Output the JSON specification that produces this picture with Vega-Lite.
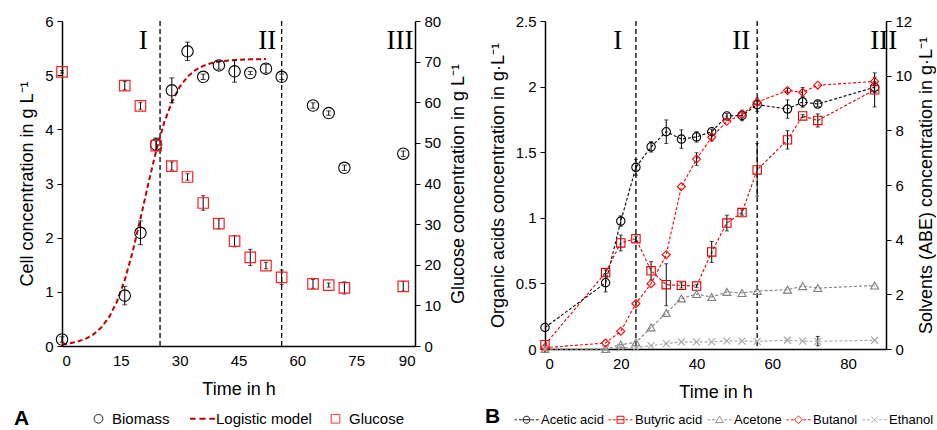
{
  "$schema": "https://vega.github.io/schema/vega-lite/v6.json",
  "padding": {"left": 14, "top": 14, "right": 0, "bottom": 0},
  "spacing": 17,
  "config": {
    "font": "Liberation Sans",
    "view": {"stroke": null},
    "axis": {"labelFont": "Liberation Sans", "labelFontSize": 15, "labelColor": "#000", "titleFont": "Liberation Sans", "titleFontSize": 18, "titleFontWeight": "normal", "titleColor": "#000", "domainColor": "#000", "domainWidth": 1.5, "tickColor": "#000", "tickSize": 5, "grid": false, "labelPadding": 4, "titlePadding": 8, "labelOverlap": false},
    "axisX": {"ticks": false, "labelPadding": 7, "titlePadding": 12, "labelOverlap": false}
  },
  "datasets": {
    "bio": [
      {"t": 0, "s": "Biomass", "v": 0.12, "lo": 0.07, "hi": 0.17},
      {"t": 16, "s": "Biomass", "v": 0.93, "lo": 0.76, "hi": 1.10},
      {"t": 20, "s": "Biomass", "v": 2.09, "lo": 1.87, "hi": 2.31},
      {"t": 24, "s": "Biomass", "v": 3.72, "lo": 3.60, "hi": 3.84},
      {"t": 28, "s": "Biomass", "v": 4.72, "lo": 4.49, "hi": 4.95},
      {"t": 32, "s": "Biomass", "v": 5.44, "lo": 5.27, "hi": 5.61},
      {"t": 36, "s": "Biomass", "v": 4.97, "lo": 4.92, "hi": 5.02},
      {"t": 40, "s": "Biomass", "v": 5.18, "lo": 5.11, "hi": 5.25},
      {"t": 44, "s": "Biomass", "v": 5.07, "lo": 4.87, "hi": 5.27},
      {"t": 48, "s": "Biomass", "v": 5.04, "lo": 5.01, "hi": 5.07},
      {"t": 52, "s": "Biomass", "v": 5.12, "lo": 5.04, "hi": 5.20},
      {"t": 56, "s": "Biomass", "v": 4.97, "lo": 4.92, "hi": 5.02},
      {"t": 64, "s": "Biomass", "v": 4.44, "lo": 4.39, "hi": 4.49},
      {"t": 68, "s": "Biomass", "v": 4.30, "lo": 4.26, "hi": 4.34},
      {"t": 72, "s": "Biomass", "v": 3.29, "lo": 3.24, "hi": 3.34},
      {"t": 87, "s": "Biomass", "v": 3.55, "lo": 3.50, "hi": 3.60}
    ],
    "glc": [
      {"t": 0, "s": "Glucose", "v": 67.5, "lo": 67.2, "hi": 67.8},
      {"t": 16, "s": "Glucose", "v": 64.1, "lo": 63.1, "hi": 65.1},
      {"t": 20, "s": "Glucose", "v": 59.1, "lo": 58.3, "hi": 59.9},
      {"t": 24, "s": "Glucose", "v": 49.3, "lo": 48.1, "hi": 50.5},
      {"t": 28, "s": "Glucose", "v": 44.3, "lo": 43.3, "hi": 45.3},
      {"t": 32, "s": "Glucose", "v": 41.6, "lo": 40.8, "hi": 42.4},
      {"t": 36, "s": "Glucose", "v": 35.2, "lo": 33.4, "hi": 37.0},
      {"t": 40, "s": "Glucose", "v": 30.1, "lo": 28.9, "hi": 31.3},
      {"t": 44, "s": "Glucose", "v": 25.8, "lo": 24.4, "hi": 27.2},
      {"t": 48, "s": "Glucose", "v": 21.8, "lo": 19.8, "hi": 23.8},
      {"t": 52, "s": "Glucose", "v": 19.8, "lo": 19.0, "hi": 20.6},
      {"t": 56, "s": "Glucose", "v": 16.9, "lo": 15.1, "hi": 18.7},
      {"t": 64, "s": "Glucose", "v": 15.3, "lo": 14.2, "hi": 16.4},
      {"t": 68, "s": "Glucose", "v": 15.0, "lo": 14.5, "hi": 15.5},
      {"t": 72, "s": "Glucose", "v": 14.3, "lo": 12.8, "hi": 15.8},
      {"t": 87, "s": "Glucose", "v": 14.7, "lo": 13.5, "hi": 15.9}
    ],
    "logit": [
      {"t": 0, "s": "Logistic model", "v": 0.031},
      {"t": 2, "s": "Logistic model", "v": 0.050},
      {"t": 4, "s": "Logistic model", "v": 0.082},
      {"t": 6, "s": "Logistic model", "v": 0.132},
      {"t": 8, "s": "Logistic model", "v": 0.213},
      {"t": 10, "s": "Logistic model", "v": 0.34},
      {"t": 12, "s": "Logistic model", "v": 0.532},
      {"t": 14, "s": "Logistic model", "v": 0.817},
      {"t": 16, "s": "Logistic model", "v": 1.216},
      {"t": 18, "s": "Logistic model", "v": 1.735},
      {"t": 20, "s": "Logistic model", "v": 2.35},
      {"t": 22, "s": "Logistic model", "v": 2.996},
      {"t": 24, "s": "Logistic model", "v": 3.60},
      {"t": 26, "s": "Logistic model", "v": 4.114},
      {"t": 28, "s": "Logistic model", "v": 4.50},
      {"t": 30, "s": "Logistic model", "v": 4.784},
      {"t": 32, "s": "Logistic model", "v": 4.97},
      {"t": 34, "s": "Logistic model", "v": 5.094},
      {"t": 36, "s": "Logistic model", "v": 5.172},
      {"t": 38, "s": "Logistic model", "v": 5.221},
      {"t": 40, "s": "Logistic model", "v": 5.251},
      {"t": 44, "s": "Logistic model", "v": 5.282},
      {"t": 48, "s": "Logistic model", "v": 5.293},
      {"t": 52, "s": "Logistic model", "v": 5.297}
    ],
    "phaseA": [{"t": 25}, {"t": 56}],
    "romA": [
      {"t": 20.7, "y": 5.63, "label": "I"},
      {"t": 52.3, "y": 5.63, "label": "II"},
      {"t": 86.2, "y": 5.63, "label": "III"}
    ],
    "phaseB": [{"t": 24}, {"t": 56}],
    "romB": [
      {"t": 19.2, "y": 2.35, "label": "I"},
      {"t": 51.8, "y": 2.35, "label": "II"},
      {"t": 89.4, "y": 2.35, "label": "III"}
    ],
    "acids": [
      {"t": 0, "s": "Acetic acid", "v": 0.164},
      {"t": 16, "s": "Acetic acid", "v": 0.505, "lo": 0.435, "hi": 0.575},
      {"t": 20, "s": "Acetic acid", "v": 0.975, "lo": 0.935, "hi": 1.015},
      {"t": 24, "s": "Acetic acid", "v": 1.385, "lo": 1.325, "hi": 1.445},
      {"t": 28, "s": "Acetic acid", "v": 1.541, "lo": 1.501, "hi": 1.581},
      {"t": 32, "s": "Acetic acid", "v": 1.656, "lo": 1.566, "hi": 1.746},
      {"t": 36, "s": "Acetic acid", "v": 1.600, "lo": 1.530, "hi": 1.670},
      {"t": 40, "s": "Acetic acid", "v": 1.617, "lo": 1.577, "hi": 1.657},
      {"t": 44, "s": "Acetic acid", "v": 1.656, "lo": 1.636, "hi": 1.676},
      {"t": 48, "s": "Acetic acid", "v": 1.776, "lo": 1.756, "hi": 1.796},
      {"t": 52, "s": "Acetic acid", "v": 1.780, "lo": 1.740, "hi": 1.820},
      {"t": 56, "s": "Acetic acid", "v": 1.862, "lo": 1.812, "hi": 1.912},
      {"t": 64, "s": "Acetic acid", "v": 1.829, "lo": 1.759, "hi": 1.899},
      {"t": 68, "s": "Acetic acid", "v": 1.883, "lo": 1.843, "hi": 1.923},
      {"t": 72, "s": "Acetic acid", "v": 1.867, "lo": 1.847, "hi": 1.887},
      {"t": 87, "s": "Acetic acid", "v": 1.995, "lo": 1.955, "hi": 2.035},
      {"t": 0, "s": "Butyric acid", "v": 0.033},
      {"t": 16, "s": "Butyric acid", "v": 0.583, "lo": 0.563, "hi": 0.603},
      {"t": 20, "s": "Butyric acid", "v": 0.808, "lo": 0.748, "hi": 0.868},
      {"t": 24, "s": "Butyric acid", "v": 0.841, "lo": 0.821, "hi": 0.861},
      {"t": 28, "s": "Butyric acid", "v": 0.596, "lo": 0.526, "hi": 0.666},
      {"t": 32, "s": "Butyric acid", "v": 0.490, "lo": 0.330, "hi": 0.650},
      {"t": 36, "s": "Butyric acid", "v": 0.485, "lo": 0.465, "hi": 0.505},
      {"t": 40, "s": "Butyric acid", "v": 0.480, "lo": 0.470, "hi": 0.490},
      {"t": 44, "s": "Butyric acid", "v": 0.740, "lo": 0.660, "hi": 0.820},
      {"t": 48, "s": "Butyric acid", "v": 0.960, "lo": 0.900, "hi": 1.020},
      {"t": 52, "s": "Butyric acid", "v": 1.040, "lo": 1.020, "hi": 1.060},
      {"t": 56, "s": "Butyric acid", "v": 1.365, "lo": 1.165, "hi": 1.565},
      {"t": 64, "s": "Butyric acid", "v": 1.594, "lo": 1.524, "hi": 1.664},
      {"t": 68, "s": "Butyric acid", "v": 1.776, "lo": 1.766, "hi": 1.786},
      {"t": 72, "s": "Butyric acid", "v": 1.742, "lo": 1.692, "hi": 1.792},
      {"t": 87, "s": "Butyric acid", "v": 1.975, "lo": 1.845, "hi": 2.105}
    ],
    "solv": [
      {"t": 0, "s": "Acetone", "v": 0.0},
      {"t": 16, "s": "Acetone", "v": 0.0},
      {"t": 20, "s": "Acetone", "v": 0.16},
      {"t": 24, "s": "Acetone", "v": 0.24},
      {"t": 28, "s": "Acetone", "v": 0.79},
      {"t": 32, "s": "Acetone", "v": 1.32},
      {"t": 36, "s": "Acetone", "v": 1.85},
      {"t": 40, "s": "Acetone", "v": 2.01},
      {"t": 44, "s": "Acetone", "v": 1.90},
      {"t": 48, "s": "Acetone", "v": 2.09},
      {"t": 52, "s": "Acetone", "v": 2.05},
      {"t": 56, "s": "Acetone", "v": 2.12},
      {"t": 64, "s": "Acetone", "v": 2.17},
      {"t": 68, "s": "Acetone", "v": 2.30},
      {"t": 72, "s": "Acetone", "v": 2.23},
      {"t": 87, "s": "Acetone", "v": 2.32},
      {"t": 0, "s": "Butanol", "v": 0.05},
      {"t": 16, "s": "Butanol", "v": 0.22},
      {"t": 20, "s": "Butanol", "v": 0.65},
      {"t": 24, "s": "Butanol", "v": 1.66},
      {"t": 28, "s": "Butanol", "v": 2.39},
      {"t": 32, "s": "Butanol", "v": 3.45},
      {"t": 36, "s": "Butanol", "v": 5.94},
      {"t": 40, "s": "Butanol", "v": 6.95, "lo": 6.72, "hi": 7.18},
      {"t": 44, "s": "Butanol", "v": 7.75, "lo": 7.61, "hi": 7.89},
      {"t": 48, "s": "Butanol", "v": 8.33},
      {"t": 52, "s": "Butanol", "v": 8.57},
      {"t": 56, "s": "Butanol", "v": 9.03},
      {"t": 64, "s": "Butanol", "v": 9.46, "lo": 9.38, "hi": 9.54},
      {"t": 68, "s": "Butanol", "v": 9.39, "lo": 9.21, "hi": 9.57},
      {"t": 72, "s": "Butanol", "v": 9.65},
      {"t": 87, "s": "Butanol", "v": 9.79, "lo": 9.64, "hi": 9.94},
      {"t": 0, "s": "Ethanol", "v": 0.0},
      {"t": 16, "s": "Ethanol", "v": 0.0},
      {"t": 20, "s": "Ethanol", "v": 0.06},
      {"t": 24, "s": "Ethanol", "v": 0.05},
      {"t": 28, "s": "Ethanol", "v": 0.12},
      {"t": 32, "s": "Ethanol", "v": 0.20},
      {"t": 36, "s": "Ethanol", "v": 0.26},
      {"t": 40, "s": "Ethanol", "v": 0.26},
      {"t": 44, "s": "Ethanol", "v": 0.26},
      {"t": 48, "s": "Ethanol", "v": 0.30},
      {"t": 52, "s": "Ethanol", "v": 0.29},
      {"t": 56, "s": "Ethanol", "v": 0.28},
      {"t": 64, "s": "Ethanol", "v": 0.32},
      {"t": 68, "s": "Ethanol", "v": 0.29},
      {"t": 72, "s": "Ethanol", "v": 0.28, "lo": 0.12, "hi": 0.46},
      {"t": 87, "s": "Ethanol", "v": 0.32}
    ]
  },
  "hconcat": [
    {
      "width": 353,
      "height": 325,
      "layer": [
        {
          "layer": [
            {
              "data": {"name": "phaseA"},
              "mark": {"type": "rule", "color": "#000", "strokeWidth": 1.3, "strokeDash": [5, 3]},
              "encoding": {
                "x": {"field": "t", "type": "quantitative", "scale": {"domain": [0, 90], "nice": false}, "axis": {"values": [0, 15, 30, 45, 60, 75, 90], "title": "Time in h", "labelOverlap": false}}
              }
            },
            {
              "data": {"name": "logit"},
              "mark": {"type": "line", "strokeWidth": 2, "strokeDash": [5, 3]},
              "encoding": {
                "x": {"field": "t", "type": "quantitative"},
                "y": {"field": "v", "type": "quantitative", "scale": {"domain": [0, 6], "nice": false}, "axis": {"orient": "left", "values": [0, 1, 2, 3, 4, 5, 6], "format": "d", "title": "Cell concentration in g L⁻¹"}},
                "color": {"field": "s", "type": "nominal", "scale": {"domain": ["Biomass", "Logistic model", "Glucose"], "range": ["#000000", "#c00000", "#ff2020"]},
                  "legend": {"title": "A", "titleOrient": "left", "titleAnchor": "middle", "titleBaseline": "middle", "titleFont": "Liberation Sans", "titleFontSize": 21, "titleFontWeight": "bold", "titleColor": "#000", "titlePadding": 61,
                    "orient": "none", "legendX": -48, "legendY": 390, "direction": "horizontal", "gridAlign": "each", "labelFontSize": 15, "labelFont": "Liberation Sans", "labelColor": "#000", "columnPadding": 16, "labelOffset": 6, "symbolSize": 625, "symbolStrokeWidth": 1,
                    "encode": {"symbols": {"update": {
                      "shape": {"signal": "datum.value === 'Logistic model' ? 'M-1,0H-0.55M-0.25,0H0.25M0.55,0H1' : (datum.value === 'Glucose' ? 'square' : 'circle')"},
                      "size": {"signal": "datum.value === 'Logistic model' ? 625 : 75"},
                      "stroke": {"signal": "datum.value === 'Logistic model' ? '#c00000' : (datum.value === 'Glucose' ? '#ff2020' : '#000000')"},
                      "strokeWidth": {"signal": "datum.value === 'Logistic model' ? 2 : 1"},
                      "strokeDash": {"value": [1, 0]},
                      "fill": {"value": "transparent"},
                      "opacity": {"value": 1}
                    }}}
                  }
                }
              }
            },
            {
              "data": {"name": "bio"},
              "mark": {"type": "rule", "color": "#000", "strokeWidth": 1},
              "encoding": {
                "x": {"field": "t", "type": "quantitative"},
                "y": {"field": "lo", "type": "quantitative"},
                "y2": {"field": "hi"}
              }
            },
            {
              "data": {"name": "bio"},
              "mark": {"type": "tick", "orient": "horizontal", "size": 5, "thickness": 1, "color": "#000"},
              "encoding": {
                "x": {"field": "t", "type": "quantitative"},
                "y": {"field": "lo", "type": "quantitative"}
              }
            },
            {
              "data": {"name": "bio"},
              "mark": {"type": "tick", "orient": "horizontal", "size": 5, "thickness": 1, "color": "#000"},
              "encoding": {
                "x": {"field": "t", "type": "quantitative"},
                "y": {"field": "hi", "type": "quantitative"}
              }
            },
            {
              "data": {"name": "bio"},
              "mark": {"type": "point", "shape": "circle", "filled": false, "size": 130, "strokeWidth": 1.1, "opacity": 1},
              "encoding": {
                "x": {"field": "t", "type": "quantitative"},
                "y": {"field": "v", "type": "quantitative"},
                "color": {"field": "s", "type": "nominal"}
              }
            },
            {
              "data": {"name": "romA"},
              "mark": {"type": "text", "font": "Liberation Serif", "fontSize": 27, "color": "#000", "baseline": "middle", "align": "center"},
              "encoding": {
                "x": {"field": "t", "type": "quantitative"},
                "y": {"field": "y", "type": "quantitative"},
                "text": {"field": "label"}
              }
            }
          ]
        },
        {
          "layer": [
            {
              "data": {"name": "glc"},
              "mark": {"type": "rule", "color": "#000", "strokeWidth": 1},
              "encoding": {
                "x": {"field": "t", "type": "quantitative"},
                "y": {"field": "lo", "type": "quantitative", "scale": {"domain": [0, 80], "nice": false}, "axis": {"orient": "right", "values": [0, 10, 20, 30, 40, 50, 60, 70, 80], "title": "Glucose concentration in g L⁻¹", "titlePadding": 9, "titleAngle": -90, "titleBaseline": "top"}},
                "y2": {"field": "hi"}
              }
            },
            {
              "data": {"name": "glc"},
              "mark": {"type": "tick", "orient": "horizontal", "size": 4, "thickness": 1, "color": "#000"},
              "encoding": {
                "x": {"field": "t", "type": "quantitative"},
                "y": {"field": "lo", "type": "quantitative"}
              }
            },
            {
              "data": {"name": "glc"},
              "mark": {"type": "tick", "orient": "horizontal", "size": 4, "thickness": 1, "color": "#000"},
              "encoding": {
                "x": {"field": "t", "type": "quantitative"},
                "y": {"field": "hi", "type": "quantitative"}
              }
            },
            {
              "data": {"name": "glc"},
              "mark": {"type": "point", "shape": "square", "filled": false, "size": 110, "strokeWidth": 1.2, "opacity": 1},
              "encoding": {
                "x": {"field": "t", "type": "quantitative"},
                "y": {"field": "v", "type": "quantitative"},
                "color": {"field": "s", "type": "nominal"}
              }
            }
          ]
        }
      ],
      "resolve": {"scale": {"y": "independent"}}
    },
    {
      "width": 341,
      "height": 328,
      "layer": [
        {
          "layer": [
            {
              "data": {"name": "phaseB"},
              "mark": {"type": "rule", "color": "#000", "strokeWidth": 1.3, "strokeDash": [5, 3]},
              "encoding": {
                "x": {"field": "t", "type": "quantitative", "scale": {"domain": [0, 90], "nice": false}, "axis": {"values": [0, 10, 20, 30, 40, 50, 60, 70, 80, 90], "title": "Time in h", "labelOverlap": false}}
              }
            },
            {
              "data": {"name": "acids"},
              "mark": {"type": "line", "strokeWidth": 1.1, "strokeDash": [3, 2]},
              "encoding": {
                "x": {"field": "t", "type": "quantitative"},
                "y": {"field": "v", "type": "quantitative", "scale": {"domain": [0, 2.5], "nice": false}, "axis": {"orient": "left", "values": [0, 0.5, 1, 1.5, 2, 2.5], "format": ".1~f", "title": "Organic acids concentration in g·L⁻¹"}},
                "color": {"field": "s", "type": "nominal", "scale": {"domain": ["Acetic acid", "Butyric acid", "Acetone", "Butanol", "Ethanol"], "range": ["#000000", "#e00000", "#808080", "#ff0000", "#a6a6a6"]},
                  "legend": {"title": "B", "titleOrient": "left", "titleAnchor": "middle", "titleBaseline": "middle", "titleFont": "Liberation Sans", "titleFontSize": 21, "titleFontWeight": "bold", "titleColor": "#000", "titlePadding": 13,
                    "orient": "none", "legendX": -60, "legendY": 386, "direction": "horizontal", "gridAlign": "each", "labelFontSize": 13, "labelFont": "Liberation Sans", "labelColor": "#000", "columnPadding": 2, "labelOffset": 2, "symbolSize": 576, "symbolStrokeWidth": 1,
                    "encode": {"symbols": {"update": {
                      "shape": {"signal": "'M-1,0H-0.78M-0.62,0H-0.4M0.4,0H0.62M0.78,0H1' + (datum.value === 'Acetic acid' ? 'M0.29,0A0.29,0.29 0 1,1 -0.29,0A0.29,0.29 0 1,1 0.29,0M-0.29,0H0.29' : datum.value === 'Butyric acid' ? 'M-0.29,-0.29H0.29V0.29H-0.29ZM-0.29,0H0.29' : datum.value === 'Acetone' ? 'M0,-0.3L0.32,0.24H-0.32Z' : datum.value === 'Butanol' ? 'M0,-0.33L0.33,0L0,0.33L-0.33,0Z' : 'M-0.27,-0.27L0.27,0.27M-0.27,0.27L0.27,-0.27')"},
                      "size": {"value": 576},
                      "stroke": {"signal": "datum.value === 'Acetic acid' ? '#000000' : datum.value === 'Butyric acid' ? '#e00000' : datum.value === 'Acetone' ? '#808080' : datum.value === 'Butanol' ? '#ff0000' : '#a6a6a6'"},
                      "strokeWidth": {"value": 1},
                      "strokeDash": {"value": [1, 0]},
                      "fill": {"value": "transparent"},
                      "opacity": {"value": 1}
                    }}}
                  }
                },
                "detail": {"field": "s"}
              }
            },
            {
              "data": {"name": "acids"},
              "mark": {"type": "rule", "color": "#000", "strokeWidth": 1},
              "encoding": {
                "x": {"field": "t", "type": "quantitative"},
                "y": {"field": "lo", "type": "quantitative"},
                "y2": {"field": "hi"}
              }
            },
            {
              "data": {"name": "acids"},
              "mark": {"type": "tick", "orient": "horizontal", "size": 4, "thickness": 1, "color": "#000"},
              "encoding": {
                "x": {"field": "t", "type": "quantitative"},
                "y": {"field": "lo", "type": "quantitative"}
              }
            },
            {
              "data": {"name": "acids"},
              "mark": {"type": "tick", "orient": "horizontal", "size": 4, "thickness": 1, "color": "#000"},
              "encoding": {
                "x": {"field": "t", "type": "quantitative"},
                "y": {"field": "hi", "type": "quantitative"}
              }
            },
            {
              "data": {"name": "acids"},
              "transform": [{"filter": {"field": "s", "equal": "Acetic acid"}}],
              "mark": {"type": "point", "shape": "circle", "filled": false, "size": 70, "strokeWidth": 1.1, "opacity": 1},
              "encoding": {
                "x": {"field": "t", "type": "quantitative"},
                "y": {"field": "v", "type": "quantitative"},
                "color": {"field": "s", "type": "nominal"}
              }
            },
            {
              "data": {"name": "acids"},
              "transform": [{"filter": {"field": "s", "equal": "Butyric acid"}}],
              "mark": {"type": "point", "shape": "square", "filled": false, "size": 70, "strokeWidth": 1.1, "opacity": 1},
              "encoding": {
                "x": {"field": "t", "type": "quantitative"},
                "y": {"field": "v", "type": "quantitative"},
                "color": {"field": "s", "type": "nominal"}
              }
            },
            {
              "data": {"name": "romB"},
              "mark": {"type": "text", "font": "Liberation Serif", "fontSize": 27, "color": "#000", "baseline": "middle", "align": "center"},
              "encoding": {
                "x": {"field": "t", "type": "quantitative"},
                "y": {"field": "y", "type": "quantitative"},
                "text": {"field": "label"}
              }
            }
          ]
        },
        {
          "layer": [
            {
              "data": {"name": "solv"},
              "mark": {"type": "line", "strokeWidth": 1.1, "strokeDash": [3, 2]},
              "encoding": {
                "x": {"field": "t", "type": "quantitative"},
                "y": {"field": "v", "type": "quantitative", "scale": {"domain": [0, 12], "nice": false}, "axis": {"orient": "right", "values": [0, 2, 4, 6, 8, 10, 12], "title": "Solvents (ABE) concentration in g·L⁻¹", "titlePadding": 6, "titleAngle": -90, "titleBaseline": "top"}},
                "color": {"field": "s", "type": "nominal"},
                "detail": {"field": "s"}
              }
            },
            {
              "data": {"name": "solv"},
              "mark": {"type": "rule", "color": "#000", "strokeWidth": 1},
              "encoding": {
                "x": {"field": "t", "type": "quantitative"},
                "y": {"field": "lo", "type": "quantitative"},
                "y2": {"field": "hi"}
              }
            },
            {
              "data": {"name": "solv"},
              "mark": {"type": "tick", "orient": "horizontal", "size": 4, "thickness": 1, "color": "#000"},
              "encoding": {
                "x": {"field": "t", "type": "quantitative"},
                "y": {"field": "lo", "type": "quantitative"}
              }
            },
            {
              "data": {"name": "solv"},
              "mark": {"type": "tick", "orient": "horizontal", "size": 4, "thickness": 1, "color": "#000"},
              "encoding": {
                "x": {"field": "t", "type": "quantitative"},
                "y": {"field": "hi", "type": "quantitative"}
              }
            },
            {
              "data": {"name": "solv"},
              "transform": [{"filter": {"field": "s", "equal": "Acetone"}}],
              "mark": {"type": "point", "shape": "triangle-up", "filled": false, "size": 64, "strokeWidth": 1.1, "opacity": 1},
              "encoding": {
                "x": {"field": "t", "type": "quantitative"},
                "y": {"field": "v", "type": "quantitative"},
                "color": {"field": "s", "type": "nominal"}
              }
            },
            {
              "data": {"name": "solv"},
              "transform": [{"filter": {"field": "s", "equal": "Butanol"}}],
              "mark": {"type": "point", "shape": "diamond", "filled": false, "size": 64, "strokeWidth": 1.1, "opacity": 1},
              "encoding": {
                "x": {"field": "t", "type": "quantitative"},
                "y": {"field": "v", "type": "quantitative"},
                "color": {"field": "s", "type": "nominal"}
              }
            },
            {
              "data": {"name": "solv"},
              "transform": [{"filter": {"field": "s", "equal": "Ethanol"}}],
              "mark": {"type": "point", "shape": "M-1,-1L1,1M-1,1L1,-1", "filled": false, "size": 49, "strokeWidth": 1.1, "opacity": 1},
              "encoding": {
                "x": {"field": "t", "type": "quantitative"},
                "y": {"field": "v", "type": "quantitative"},
                "color": {"field": "s", "type": "nominal"}
              }
            }
          ]
        }
      ],
      "resolve": {"scale": {"y": "independent"}}
    }
  ],
  "resolve": {"scale": {"color": "independent"}, "legend": {"color": "independent"}}
}
